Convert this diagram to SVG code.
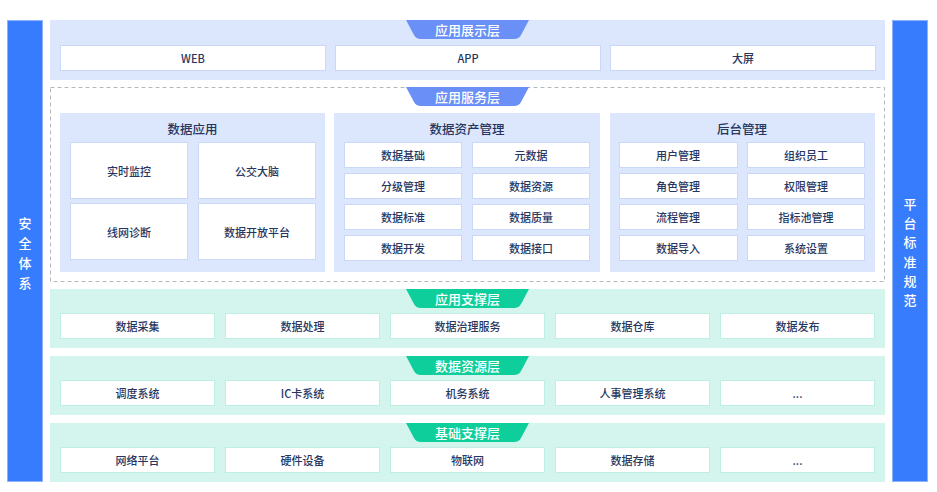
<svg xmlns="http://www.w3.org/2000/svg" width="937" height="492" viewBox="0 0 937 492">
<defs>
<style>
.side{fill:#367cfd;stroke:#8fb2fb;stroke-width:1}
.sidet{fill:#ffffff;font-family:"Noto Sans CJK SC","Noto Sans",sans-serif;font-size:13px;font-weight:500;text-anchor:middle;dominant-baseline:central}
.lb{fill:#dce7fd}
.lg{fill:#d4f5ed}
.pn{fill:#dce7fd}
.bb{fill:#ffffff;stroke:#c9d8f6;stroke-width:1}
.bg{fill:#ffffff;stroke:#bfeee2;stroke-width:1}
.t{fill:#27365f;font-family:"Noto Sans CJK SC","Noto Sans",sans-serif;font-size:11px;font-weight:500;text-anchor:middle;dominant-baseline:central}
.h{fill:#27365f;font-family:"Noto Sans CJK SC","Noto Sans",sans-serif;font-size:12.5px;font-weight:500;text-anchor:middle;dominant-baseline:central}
.tabb{fill:#6a8ff6}
.tabg{fill:#0ecf9b}
.tt{fill:#ffffff;font-family:"Noto Sans CJK SC","Noto Sans",sans-serif;font-size:13px;font-weight:500;text-anchor:middle;dominant-baseline:central}
.dash{fill:none;stroke:#b4b8c0;stroke-width:1;stroke-dasharray:4 3}
</style>
<path id="tab" d="M406,0 L529,0 L521,15 Q519,19 514,19 L421,19 Q416,19 414,15 Z"/>
</defs>
<rect width="937" height="492" fill="#ffffff"/>

<g id="security">
<rect class="side" x="7.5" y="20.5" width="35" height="461"/>
<text class="sidet" x="25" y="222">安</text>
<text class="sidet" x="25" y="242">全</text>
<text class="sidet" x="25" y="262">体</text>
<text class="sidet" x="25" y="282">系</text>
</g>
<g id="standard">
<rect class="side" x="892.5" y="20.5" width="35" height="461"/>
<text class="sidet" x="910" y="203">平</text>
<text class="sidet" x="910" y="222">台</text>
<text class="sidet" x="910" y="241.5">标</text>
<text class="sidet" x="910" y="261">准</text>
<text class="sidet" x="910" y="280">规</text>
<text class="sidet" x="910" y="299">范</text>
</g>

<g id="layer-presentation">
<rect class="lb" x="50" y="20" width="835" height="60"/>
<use href="#tab" class="tabb" y="20"/>
<text class="tt" x="467.5" y="29.5">应用展示层</text>
<rect class="bb" x="60.5" y="45.5" width="265" height="25"/><text class="t" x="193" y="58">WEB</text>
<rect class="bb" x="335.5" y="45.5" width="265" height="25"/><text class="t" x="468" y="58">APP</text>
<rect class="bb" x="610.5" y="45.5" width="265" height="25"/><text class="t" x="743" y="58">大屏</text>
</g>

<g id="layer-service">
<rect class="dash" x="50.5" y="87.5" width="834" height="194"/>
<use href="#tab" class="tabb" y="87"/>
<text class="tt" x="467.5" y="96.5">应用服务层</text>
</g>

<g id="panel-data-app">
<rect class="pn" x="60" y="113" width="265" height="159"/>
<text class="h" x="192.5" y="128">数据应用</text>
<rect class="bb" x="70.5" y="142.5" width="117" height="56"/><text class="t" x="129" y="170.5">实时监控</text>
<rect class="bb" x="198.5" y="142.5" width="117" height="56"/><text class="t" x="257" y="170.5">公交大脑</text>
<rect class="bb" x="70.5" y="203.5" width="117" height="56"/><text class="t" x="129" y="231.5">线网诊断</text>
<rect class="bb" x="198.5" y="203.5" width="117" height="56"/><text class="t" x="257" y="231.5">数据开放平台</text>
</g>

<g id="panel-asset">
<rect class="pn" x="334" y="113" width="266" height="159"/>
<text class="h" x="467" y="128">数据资产管理</text>
<rect class="bb" x="344.5" y="142.5" width="117" height="25"/><text class="t" x="403" y="155">数据基础</text>
<rect class="bb" x="472.5" y="142.5" width="117" height="25"/><text class="t" x="531" y="155">元数据</text>
<rect class="bb" x="344.5" y="173.5" width="117" height="25"/><text class="t" x="403" y="186">分级管理</text>
<rect class="bb" x="472.5" y="173.5" width="117" height="25"/><text class="t" x="531" y="186">数据资源</text>
<rect class="bb" x="344.5" y="204.5" width="117" height="25"/><text class="t" x="403" y="217">数据标准</text>
<rect class="bb" x="472.5" y="204.5" width="117" height="25"/><text class="t" x="531" y="217">数据质量</text>
<rect class="bb" x="344.5" y="235.5" width="117" height="25"/><text class="t" x="403" y="248">数据开发</text>
<rect class="bb" x="472.5" y="235.5" width="117" height="25"/><text class="t" x="531" y="248">数据接口</text>
</g>

<g id="panel-admin">
<rect class="pn" x="610" y="113" width="265" height="159"/>
<text class="h" x="742" y="128">后台管理</text>
<rect class="bb" x="619.5" y="142.5" width="118" height="25"/><text class="t" x="678" y="155">用户管理</text>
<rect class="bb" x="747.5" y="142.5" width="117" height="25"/><text class="t" x="806" y="155">组织员工</text>
<rect class="bb" x="619.5" y="173.5" width="118" height="25"/><text class="t" x="678" y="186">角色管理</text>
<rect class="bb" x="747.5" y="173.5" width="117" height="25"/><text class="t" x="806" y="186">权限管理</text>
<rect class="bb" x="619.5" y="204.5" width="118" height="25"/><text class="t" x="678" y="217">流程管理</text>
<rect class="bb" x="747.5" y="204.5" width="117" height="25"/><text class="t" x="806" y="217">指标池管理</text>
<rect class="bb" x="619.5" y="235.5" width="118" height="25"/><text class="t" x="678" y="248">数据导入</text>
<rect class="bb" x="747.5" y="235.5" width="117" height="25"/><text class="t" x="806" y="248">系统设置</text>
</g>

<g id="layer-support">
<rect class="lg" x="50" y="289" width="835" height="59"/>
<use href="#tab" class="tabg" y="289"/>
<text class="tt" x="467.5" y="298.5">应用支撑层</text>
<rect class="bg" x="60.5" y="313.5" width="154" height="25"/><text class="t" x="137.5" y="326">数据采集</text>
<rect class="bg" x="225.5" y="313.5" width="154" height="25"/><text class="t" x="302.5" y="326">数据处理</text>
<rect class="bg" x="390.5" y="313.5" width="154" height="25"/><text class="t" x="467.5" y="326">数据治理服务</text>
<rect class="bg" x="555.5" y="313.5" width="154" height="25"/><text class="t" x="632.5" y="326">数据仓库</text>
<rect class="bg" x="720.5" y="313.5" width="154" height="25"/><text class="t" x="797.5" y="326">数据发布</text>
</g>

<g id="layer-resource">
<rect class="lg" x="50" y="356" width="835" height="59"/>
<use href="#tab" class="tabg" y="356"/>
<text class="tt" x="467.5" y="365.5">数据资源层</text>
<rect class="bg" x="60.5" y="380.5" width="154" height="25"/><text class="t" x="137.5" y="393">调度系统</text>
<rect class="bg" x="225.5" y="380.5" width="154" height="25"/><text class="t" x="302.5" y="393">IC卡系统</text>
<rect class="bg" x="390.5" y="380.5" width="154" height="25"/><text class="t" x="467.5" y="393">机务系统</text>
<rect class="bg" x="555.5" y="380.5" width="154" height="25"/><text class="t" x="632.5" y="393">人事管理系统</text>
<rect class="bg" x="720.5" y="380.5" width="154" height="25"/><text class="t" x="797.5" y="393">...</text>
</g>

<g id="layer-base">
<rect class="lg" x="50" y="423" width="835" height="59"/>
<use href="#tab" class="tabg" y="423"/>
<text class="tt" x="467.5" y="432.5">基础支撑层</text>
<rect class="bg" x="60.5" y="447.5" width="154" height="25"/><text class="t" x="137.5" y="460">网络平台</text>
<rect class="bg" x="225.5" y="447.5" width="154" height="25"/><text class="t" x="302.5" y="460">硬件设备</text>
<rect class="bg" x="390.5" y="447.5" width="154" height="25"/><text class="t" x="467.5" y="460">物联网</text>
<rect class="bg" x="555.5" y="447.5" width="154" height="25"/><text class="t" x="632.5" y="460">数据存储</text>
<rect class="bg" x="720.5" y="447.5" width="154" height="25"/><text class="t" x="797.5" y="460">...</text>
</g>

<g id="connectors"></g>
</svg>
